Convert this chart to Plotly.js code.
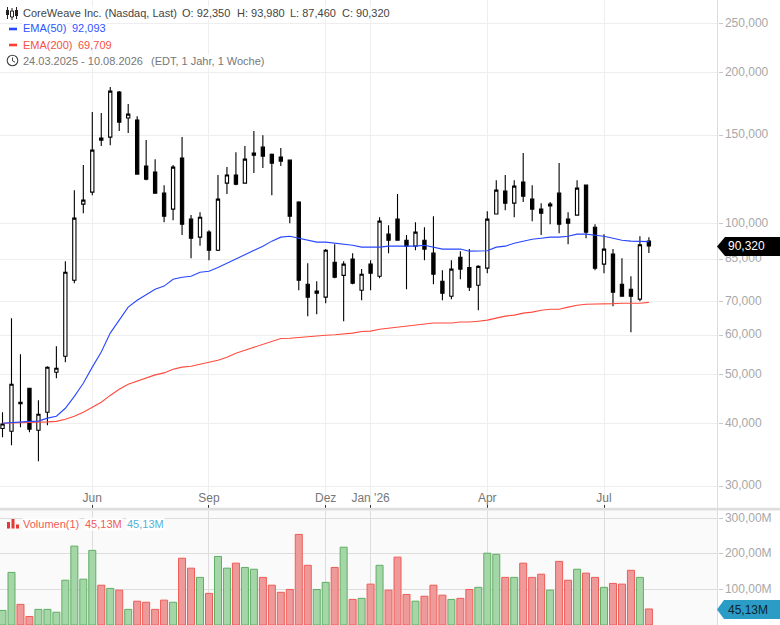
<!DOCTYPE html>
<html><head><meta charset="utf-8">
<script src="https://cdn.plot.ly/plotly-3.0.1.min.js"></script>
<style>html,body{margin:0;padding:0;background:#fff;overflow:hidden}#c{width:780px;height:625px}</style>
</head><body><div id="c"></div>
<script>
const dates=["2025-03-24","2025-03-31","2025-04-07","2025-04-14","2025-04-21","2025-04-28","2025-05-05","2025-05-12","2025-05-19","2025-05-26","2025-06-02","2025-06-09","2025-06-16","2025-06-23","2025-06-30","2025-07-07","2025-07-14","2025-07-21","2025-07-28","2025-08-04","2025-08-11","2025-08-18","2025-08-25","2025-09-01","2025-09-08","2025-09-15","2025-09-22","2025-09-29","2025-10-06","2025-10-13","2025-10-20","2025-10-27","2025-11-03","2025-11-10","2025-11-17","2025-11-24","2025-12-01","2025-12-08","2025-12-15","2025-12-22","2025-12-29","2026-01-05","2026-01-12","2026-01-19","2026-01-26","2026-02-02","2026-02-09","2026-02-16","2026-02-23","2026-03-02","2026-03-09","2026-03-16","2026-03-23","2026-03-30","2026-04-06","2026-04-13","2026-04-20","2026-04-27","2026-05-04","2026-05-11","2026-05-18","2026-05-25","2026-06-01","2026-06-08","2026-06-15","2026-06-22","2026-06-29","2026-07-06","2026-07-13","2026-07-20","2026-07-27","2026-08-03","2026-08-10"];
const open=[39.10,38.62,44.10,47.03,38.79,42.12,50.61,54.46,77.17,109.36,115.55,148.02,148.7,182.8,162.3,160.76,130.2,126.65,115,106.9,135.05,102.1,94.0,96.2,88.55,120.4,125,120.4,138.2,142,137.5,135.7,133.8,110.4,75.76,73.4,71.4,83.8,78.9,85,73.7,83.05,78.55,95.3,102.1,92.7,90.2,92.7,87.35,76.8,71.7,85.7,81.8,75.4,81.55,104.5,116.1,109.85,121,111.9,106.9,108.4,115,102.1,104,119.3,98.4,83.05,86.95,75.76,74.05,70.75,92.35];
const high=[42.12,64.83,54.96,47.03,44.51,52.01,57.01,84.19,116.61,130.78,166.77,166.0,187.0,183.64,173.0,163.7,146.67,134.4,119.3,130.8,148.7,104,105.4,97.06,125,129.6,138.8,142.7,152.85,150,138,141.4,134.2,110.8,83.4,76.8,89.0,91,84.2,87.35,81.2,84.58,103,99.3,114.5,94.9,100.7,98.4,103.5,80.8,84.58,88.15,89,82.6,105.9,122.08,125,122.08,138.2,119.3,109.85,110.4,132,105.4,122.08,119.6,99.77,95.3,89,85.35,78.55,94.4,93.98];
const low=[37.57,36.21,39.33,38.44,33.65,39.69,49.23,52.98,76.12,104.93,113.89,142.7,143.3,152.85,151.5,125.5,122.08,115.0,100.7,101.6,94.9,85.35,90.4,84.58,88.2,114.5,119.3,120.4,126.1,129,113.9,130.2,100.2,73.71,65.4,66,69.45,77.9,63.95,75.76,70.4,73.7,77.9,87.35,92.5,74.05,88.55,84.58,75.76,70.4,70.75,77.5,73.4,67.25,79.7,104.3,106.4,103,110.4,101.15,94.9,99.77,95.75,91,103.8,93.56,80.79,79.7,68.5,71.5,60.8,70.1,87.46];
const close=[39.92,47.89,43.80,38.97,41.74,51.77,51.54,80.05,102.55,111.38,140.09,146.67,183.64,159.3,165.25,125.5,122.6,115.0,103.5,129.6,99.77,93.56,103.0,88.55,111.9,125,119.85,134.4,136.9,136.3,132,133.2,103.5,77.17,71.4,72.7,88.55,78.2,83.05,76.1,79.3,79.7,101.15,92.7,92.7,90.2,96.2,89,79.3,72.7,81.2,81.2,74.7,82.2,102.1,116.61,109.85,118.75,113.4,106.9,104.93,109.36,99.77,100.2,117.7,96.2,81.55,89,73.05,71.7,71.7,90.8,90.32];
const ema50=[40.05,40.2,40.3,40.4,40.45,41.0,41.36,42.9,45.3,48.1,51.8,55.5,60.55,64.24,68.2,70.4,72.35,74.05,75.1,77.5,78.2,78.55,80.05,80.4,81.8,83.4,85.0,86.55,88.15,90.2,92.3,94,94.4,93.55,92.7,91.9,91.9,91.45,91,90.6,89.8,89.8,89.8,90.2,90.2,90.2,90.2,90.6,89.8,89,89,89,88.15,88.15,88.35,89.8,90.2,91.45,92.3,93.1,93.55,94,94,94.4,95.3,95.3,94.85,94.4,93.55,92.7,92.3,92.3,92.093];
const ema200=[40.05,40.05,40.15,40.2,40.2,40.3,40.4,40.8,41.36,42.12,43.1,44.1,45.5,46.8,47.9,48.55,49.25,50,50.45,51.3,51.8,52,52.5,53,53.47,54.2,55.2,55.98,56.75,57.55,58.35,59.05,59.15,59.4,59.55,59.7,59.95,60.1,60.25,60.55,61,61.1,61.65,61.95,62.25,62.5,62.8,63.1,63.4,63.4,63.4,63.7,63.7,63.95,64.25,64.85,65.45,65.75,66.35,66.65,67.25,67.55,67.55,68.2,68.8,69.1,69.1,69.25,69.3,69.45,69.45,69.45,69.709];
const volume=[41,148,58,24,44,44,36,126,222,129,210,112,103,98,44,67,64,44,70,64,188,160,134,89,193,160,174,162,157,134,112,92,100,255,168,100,120,162,219,72,75,115,168,98,191,86,67,81,112,84,72,75,100,106,202,199,134,134,174,134,143,98,179,126,157,146,134,106,117,115,154,134,45.13];
const volumeDir="GGRRGGGGGG"+"GRGRGRRRRG"+"RRGRGGRGGR"+"RRRRRGGRGR"+"GRGRRRGRRR"+"GRRGGGRGRR"+"RGRRGRRGRR"+"RGR";
const priceTicks=[250,200,150,100,85,70,60,50,40,30];
const priceLabels=["250,000","200,000","150,000","100,000","85,000","70,000","60,000","50,000","40,000","30,000"];
const volTicks=[100,200,300];
const volLabels=["100,00M","200,00M","300,00M"];
const monthTicks=["2025-06-02","2025-09-01","2025-12-01","2026-01-05","2026-04-06","2026-07-06"];
const monthLabels=["Jun","Sep","Dez","Jan '26","Apr","Jul"];

const W=780,H=625,F="Liberation Sans, Arial, sans-serif";
const px=x=>x/W, py=y=>1-y/H;
const xRange=["2025-03-22 01:00","2026-10-02 12:00"];
const GREEN_F="#a5d6a7",GREEN_L="#5fae64",RED_F="#ef9a9a",RED_L="#ef5b56";

const traces=[
 {type:"candlestick",x:dates,open,high,low,close,xaxis:"x",yaxis:"y",
  increasing:{line:{color:"#000",width:1.1},fillcolor:"#fff"},
  decreasing:{line:{color:"#000",width:1.1},fillcolor:"#000"},whiskerwidth:0,hoverinfo:"skip"},
 {type:"scatter",mode:"lines",x:dates,y:ema200,xaxis:"x",yaxis:"y",line:{color:"#ff4b3e",width:1.1},hoverinfo:"skip"},
 {type:"scatter",mode:"lines",x:dates,y:ema50,xaxis:"x",yaxis:"y",line:{color:"#2746ff",width:1.1},hoverinfo:"skip"},
 {type:"bar",x:dates,y:volume,xaxis:"x2",yaxis:"y2",width:7*86400000*0.78,
  marker:{color:[...volumeDir].map(c=>c==="G"?GREEN_F:RED_F),line:{color:[...volumeDir].map(c=>c==="G"?GREEN_L:RED_L),width:1}},hoverinfo:"skip"}
];

function txt(x,y,text,color,opts){return Object.assign({xref:"paper",yref:"paper",x:px(x-1),y:py(y),text,showarrow:false,xanchor:"left",yanchor:"middle",
  font:{family:F,size:11,color},borderpad:0,bgcolor:"rgba(255,255,255,0.85)"},opts||{});}
function rect(x0,y0,x1,y1,fill,layer){return {type:"rect",xref:"paper",yref:"paper",x0:px(x0),x1:px(x1),y0:py(y0),y1:py(y1),fillcolor:fill,line:{width:0},layer:layer||"above"};}
function path(points,fill){return {type:"path",xref:"paper",yref:"paper",path:"M"+points.map(p=>px(p[0])+","+py(p[1])).join(" L")+" Z",fillcolor:fill,line:{width:0},layer:"above"};}
function ln(x0,y0,x1,y1,c,w){return {type:"line",xref:"paper",yref:"paper",x0:px(x0),x1:px(x1),y0:py(y0),y1:py(y1),line:{color:c,width:w},layer:"above"};}

const flagFont=c=>({family:F,size:12,color:c});
const annotations=[
 txt(23,12.5,"CoreWeave Inc. (Nasdaq, Last)","#444"),
 txt(182,12.5,"O: 92,350","#444"),txt(237,12.5,"H: 93,980","#444"),txt(290,12.5,"L: 87,460","#444"),txt(342,12.5,"C: 90,320","#444"),
 txt(23,28.5,"EMA(50)","#2f55ff"),txt(72,28.5,"92,093","#2f55ff"),
 txt(23,44.5,"EMA(200)","#f4513f"),txt(78,44.5,"69,709","#f4513f"),
 txt(23,60.5,"24.03.2025 - 10.08.2026","#777"),txt(151,60.5,"(EDT, 1 Jahr, 1 Woche)","#777"),
 txt(23,524,"Volumen(1)","#ef5b56"),txt(85,524,"45,13M","#ef5b56"),txt(127,524,"45,13M","#55b0d8"),
 txt(727.5,246.5,"90,320","#fff",{bgcolor:"rgba(0,0,0,0)",font:flagFont("#fff")}),
 txt(727.5,609.5,"45,13M","#0b2530",{bgcolor:"rgba(0,0,0,0)",font:flagFont("#0b2530")})
];

const shapes=[
 rect(0,510,717.5,625,"#fafafa","below"),
 rect(0,507.8,780,510.6,"#dedede"),
 ln(717.5,0,717.5,625,"#dcdcdc",1),
 // legend icons
 ln(7.5,7,7.5,19,"#222",1),rect(6,10,9,15,"#222"),
 ln(12,8,12,20,"#222",1),rect(10.5,11,13.5,17,"#fff"),ln(10.5,11,13.5,11,"#222",1),ln(10.5,17,13.5,17,"#222",1),ln(10.5,11,10.5,17,"#222",1),ln(13.5,11,13.5,17,"#222",1),
 ln(16.5,7,16.5,19,"#222",1),rect(15,10,18,16,"#222"),
 rect(9,27.7,17,30.3,"#2746ff"),
 rect(9,43.7,17,46.3,"#ff3d30"),
 {type:"circle",xref:"paper",yref:"paper",x0:px(7.2),x1:px(17.8),y0:py(55.2),y1:py(65.8),line:{color:"#444",width:1.1},fillcolor:"rgba(0,0,0,0)",layer:"above"},
 ln(12.5,57.5,12.5,60.8,"#444",1),ln(12.5,60.8,15,62.2,"#444",1),
 rect(7,522,10,528.5,"#e53935"),rect(11.5,519,14.5,528.5,"#e53935"),rect(16,524.5,19,528.5,"#e53935"),
 // price flags
 path([[717,246.5],[725,237],[780,237],[780,256],[725,256]],"#000"),
 path([[717,609.5],[724,600],[780,600],[780,619],[724,619]],"#2b9cc6")
];

const layout={
 width:W,height:H,margin:{l:0,r:0,t:0,b:0,pad:0},autosize:false,showlegend:false,
 paper_bgcolor:"#fff",plot_bgcolor:"rgba(0,0,0,0)",font:{family:F,size:12,color:"#777"},bargap:0,boxgap:0.48,
 xaxis:{type:"date",domain:[0,717.5/W],range:xRange,anchor:"y",rangeslider:{visible:false},
  tickmode:"array",tickvals:monthTicks,ticktext:monthLabels,ticks:"inside",ticklen:3,tickcolor:"#333",tickwidth:1,
  ticklabelposition:"inside",tickfont:{family:F,size:12,color:"#777"},showgrid:true,gridcolor:"#eeeeee",gridwidth:1,zeroline:false,showline:false},
 xaxis2:{type:"date",domain:[0,717.5/W],range:xRange,anchor:"y2",tickmode:"array",tickvals:monthTicks,showticklabels:false,ticks:"",
  showgrid:true,gridcolor:"#dddddd",gridwidth:1,zeroline:false,showline:false},
 yaxis:{type:"log",domain:[1-507.5/H,1],range:[Math.log10(27.22),Math.log10(278.8)],side:"right",anchor:"x",
  tickmode:"array",tickvals:priceTicks,ticktext:priceLabels,ticks:"outside",ticklen:4,tickcolor:"#c8c8c8",tickwidth:1,ticklabelshift:-1,
  tickfont:{family:F,size:12,color:"#a8a8a8"},showgrid:true,gridcolor:"#eeeeee",gridwidth:1,zeroline:false,showline:false,automargin:false},
 yaxis2:{domain:[0,1-510.6/H],range:[0,322],side:"right",anchor:"x2",tickmode:"array",tickvals:volTicks,ticktext:volLabels,
  ticks:"outside",ticklen:4,tickcolor:"#c8c8c8",tickwidth:1,ticklabelshift:-1,tickfont:{family:F,size:12,color:"#a8a8a8"},
  showgrid:true,gridcolor:"#dddddd",gridwidth:1,zeroline:false,showline:false,automargin:false},
 annotations,shapes
};
Plotly.newPlot("c",traces,layout,{staticPlot:true,displayModeBar:false});
</script></body></html>
